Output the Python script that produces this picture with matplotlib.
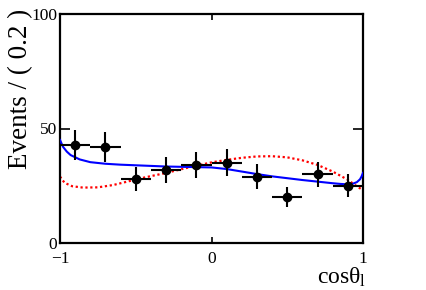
import matplotlib
matplotlib.use("Agg")
import matplotlib.pyplot as plt
import numpy as np

# Data points (bin centres, counts)
bin_centers = [-0.9, -0.7, -0.5, -0.3, -0.1, 0.1, 0.3, 0.5, 0.7, 0.9]
counts = [43, 42, 28, 32, 34, 35, 29, 20, 30, 25]
bin_half_width = 0.1

# Blue (solid) fit curve
blue_x = [-1.0, -0.98, -0.955, -0.93, -0.87, -0.80, -0.70, -0.60, -0.45, -0.30, -0.15, 0.0,
          0.1, 0.2, 0.3, 0.4, 0.5, 0.6, 0.7, 0.8, 0.85, 0.9, 0.93, 0.96, 0.98, 0.99, 1.0]
blue_y = [45.0, 42.0, 39.9, 38.4, 36.5, 35.3, 34.6, 34.2, 33.8, 33.4, 33.2, 33.0,
          32.3, 31.2, 30.1, 29.1, 28.3, 27.5, 26.8, 26.1, 25.8, 25.6, 25.8, 26.6, 27.8, 29.0, 30.6]

# Red (dotted) curve
red_x = [-1.0, -0.97, -0.92, -0.85, -0.75, -0.65, -0.55, -0.45, -0.3, -0.15, 0.0,
         0.1, 0.2, 0.3, 0.4, 0.5, 0.6, 0.7, 0.8, 0.9, 0.95, 1.0]
red_y = [29.0, 26.3, 24.8, 24.2, 24.3, 25.3, 26.9, 28.5, 30.6, 33.0, 35.2,
         36.3, 37.2, 37.8, 37.9, 37.4, 36.1, 34.1, 31.2, 27.6, 25.2, 23.0]

x_ticks = [-1, 0, 1]
x_tick_labels = ['\u22121', '0', '1']
y_ticks = [0, 50, 100]

plt.rcParams['font.family'] = ['Liberation Serif', 'DejaVu Serif']
plt.rcParams['mathtext.fontset'] = 'custom'
plt.rcParams['mathtext.rm'] = 'Liberation Serif'
plt.rcParams['mathtext.it'] = 'Liberation Serif'

fig = plt.figure(figsize=(4.27, 2.90), dpi=100)
ax = fig.add_axes([60/427, 47/290, 303/427, 229/290])

ax.plot(red_x, red_y, color='red', linestyle=(0, (1, 1.2)), linewidth=1.6, zorder=2)
ax.plot(blue_x, blue_y, color='blue', linewidth=1.5, zorder=3)

err = np.sqrt(np.array(counts, dtype=float))
ax.errorbar(bin_centers, counts, xerr=bin_half_width, yerr=err, fmt='o', color='black',
            markersize=6, elinewidth=1.5, capsize=0, zorder=4)

ax.set_xlim(-1, 1)
ax.set_ylim(0, 100)
ax.set_xticks(x_ticks)
ax.set_xticklabels(x_tick_labels)
ax.set_yticks(y_ticks)
ax.tick_params(axis='x', direction='in', length=4.3, width=1.2, top=True, labelsize=12.5, pad=6)
ax.tick_params(axis='y', direction='in', length=7.5, width=1.2, right=True, labelsize=12.5, pad=2)
for s in ax.spines.values():
    s.set_linewidth(1.6)

fig.text(21/427, 1 - 9/290, 'Events / ( 0.2 )', rotation=90, ha='center', va='top',
         fontsize=19.5)
fig.text(366/427, 1 - 289/290, r'cos$\theta_{\mathrm{l}}$', ha='right', va='bottom',
         fontsize=17)

fig.savefig('out.png', dpi=100)
